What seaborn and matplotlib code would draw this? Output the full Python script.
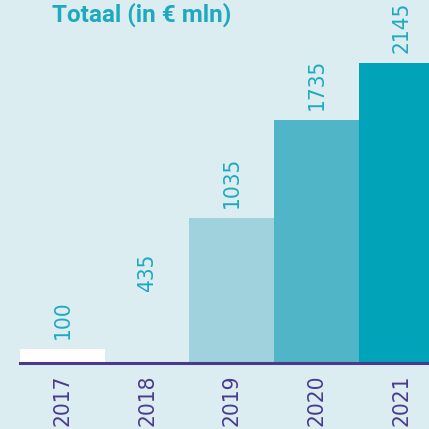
import matplotlib
matplotlib.use("Agg")
import matplotlib.pyplot as plt
from matplotlib import font_manager as fm
import seaborn as sns
import pandas as pd

years = ["2017", "2018", "2019", "2020", "2021"]
values = [100, 435, 1035, 1735, 2145]
title = "Totaal (in € mln)"

BG = "#dcedf1"
bar_colors = ["#ffffff", BG, "#a0d2dd", "#50b5c6", "#00a3b8"]
TEAL = "#1ea9bf"
PURPLE = "#4a3a8c"

# look for a condensed / narrow face
cands = []
for f in fm.fontManager.ttflist:
    low = f.fname.lower()
    if ("narrow" in low or "condensed" in low) and "bold" not in low and "oblique" not in low and "italic" not in low:
        cands.append(f)
num_fp = None
if cands:
    cands.sort(key=lambda f: (0 if "liberation" in f.fname.lower() else 1, f.fname))
    num_fp = fm.FontProperties(fname=cands[0].fname)

sns.set_theme(style="white")
plt.rcParams["font.family"] = ["DejaVu Sans"]

df = pd.DataFrame({"year": years, "value": values})

fig = plt.figure(figsize=(4.29, 4.29), dpi=100, facecolor=BG)
W = H = 429
ax = fig.add_axes([20 / W, 66 / H, 409 / W, 363 / H])
ax.set_facecolor(BG)

sns.barplot(data=df, x="year", y="value", hue="year", palette=bar_colors,
            width=1.0, saturation=1, legend=False, ax=ax, linewidth=0)

ax.set_xlim(-0.5, 4.328)
ax.set_ylim(0, 363 / 0.14)

FS = 16.2
for c in ax.containers:
    texts = ax.bar_label(c, labels=[f"{int(v)}" for v in c.datavalues], rotation=90,
                         padding=7, color=TEAL)
    for t in texts:
        if num_fp is not None:
            t.set_fontproperties(num_fp)
        t.set_fontsize(FS)

for s in ["top", "left", "right"]:
    ax.spines[s].set_visible(False)
ax.spines["bottom"].set_color(PURPLE)
ax.spines["bottom"].set_linewidth(2.2)
ax.set_yticks([])
ax.set_xlabel("")
ax.set_ylabel("")
ax.tick_params(axis="x", length=0, pad=8, colors=PURPLE)
for lab in ax.get_xticklabels():
    if num_fp is not None:
        lab.set_fontproperties(num_fp)
    lab.set_fontsize(FS)
    lab.set_rotation(90)
    lab.set_verticalalignment("top")

fig.text(52 / W, 1 - 3 / H, title, ha="left", va="top", color=TEAL,
         fontsize=17.5, fontweight="bold", family=["Roboto", "DejaVu Sans"])

fig.savefig("out.png", dpi=100, facecolor=BG)
